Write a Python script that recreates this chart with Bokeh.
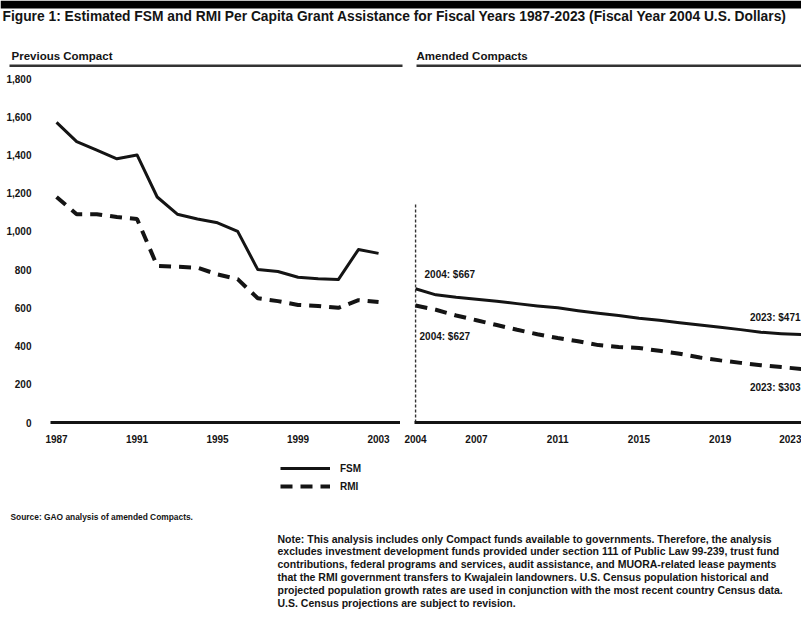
from bokeh.plotting import figure
from bokeh.models import (Range1d, FixedTicker, NumeralTickFormatter, Label,
                          Legend, LegendItem, BoxAnnotation)
from bokeh.layouts import column, row
from bokeh.embed import file_html
from bokeh.resources import INLINE

# ---------------- data ----------------
prev_years = list(range(1987, 2004))
prev_fsm = [1570, 1470, 1425, 1380, 1400, 1180, 1090, 1065, 1045, 1000,
            800, 790, 760, 752, 748, 905, 885]
prev_rmi = [1180, 1090, 1090, 1075, 1065, 820, 815, 810, 775, 750,
            650, 635, 615, 610, 600, 640, 630]

amend_years = list(range(2004, 2024))
amend_fsm = [700, 668, 655, 645, 635, 622, 610, 600, 585, 572,
             560, 545, 535, 522, 510, 498, 486, 472, 465, 460]
amend_rmi = [612, 590, 560, 535, 510, 485, 462, 442, 425, 405,
             395, 390, 375, 360, 340, 325, 312, 300, 290, 280]

y_ticks = [0, 200, 400, 600, 800, 1000, 1200, 1400, 1600, 1800]
prev_tick_years = [1987, 1991, 1995, 1999, 2003]
amend_tick_years = [2004, 2007, 2011, 2015, 2019, 2023]
divider_top = 1150

end_labels = {
    "fsm_start": "2004: $667",
    "rmi_start": "2004: $627",
    "fsm_end": "2023: $471",
    "rmi_end": "2023: $303",
}
series_names = ["FSM", "RMI"]

title_text = ("Figure 1: Estimated FSM and RMI Per Capita Grant Assistance for "
              "Fiscal Years 1987-2023 (Fiscal Year 2004 U.S. Dollars)")
panel_titles = ["Previous Compact", "Amended Compacts"]
source_text = "Source: GAO analysis of amended Compacts."
note_lines = [
    "Note: This analysis includes only Compact funds available to governments. Therefore, the analysis",
    "excludes investment development funds provided under section 111 of Public Law 99-239, trust fund",
    "contributions, federal programs and services, audit assistance, and MUORA-related lease payments",
    "that the RMI government transfers to Kwajalein landowners. U.S. Census population historical and",
    "projected population growth rates are used in conjunction with the most recent country Census data.",
    "U.S. Census projections are subject to revision.",
]

FONT = "Liberation Sans"
INK = "#141414"
W_TOTAL = 801

# ---------------- header ----------------
HEAD_H = 72
head = figure(width=W_TOTAL, height=HEAD_H, x_range=Range1d(0, W_TOTAL),
              y_range=Range1d(HEAD_H, 0), output_backend="svg",
              toolbar_location=None, x_axis_type=None, y_axis_type=None,
              min_border=0, outline_line_color=None)
head.grid.visible = False
head.add_layout(BoxAnnotation(left=0, right=W_TOTAL, top=0, bottom=8,
                              fill_color="black", fill_alpha=1, line_color=None))
head.add_layout(Label(x=2, y=16, text=title_text, text_font=FONT,
                      text_font_size="13.8px", text_font_style="bold",
                      text_color=INK, text_baseline="middle"))
head.add_layout(Label(x=11, y=55, text=panel_titles[0], text_font=FONT,
                      text_font_size="11.5px", text_font_style="bold",
                      text_color=INK, text_baseline="middle"))
head.add_layout(Label(x=416, y=55, text=panel_titles[1], text_font=FONT,
                      text_font_size="11.5px", text_font_style="bold",
                      text_color=INK, text_baseline="middle"))
head.add_layout(BoxAnnotation(left=9, right=402, top=64, bottom=66.5,
                              fill_color="#333333", fill_alpha=1, line_color=None))
head.add_layout(BoxAnnotation(left=416, right=W_TOTAL, top=64, bottom=66.5,
                              fill_color="#333333", fill_alpha=1, line_color=None))

# ---------------- plots ----------------
PLOT_H = 383


def style_axes(p):
    p.xaxis.axis_line_width = 3
    p.xaxis.axis_line_color = INK
    p.xaxis.major_tick_line_color = None
    p.xaxis.minor_tick_line_color = None
    p.xaxis.major_label_standoff = 6
    p.xaxis.major_label_text_font = FONT
    p.xaxis.major_label_text_font_size = "10px"
    p.xaxis.major_label_text_font_style = "bold"
    p.xaxis.major_label_text_color = INK
    p.grid.visible = False
    p.outline_line_color = None


left = figure(width=400, height=PLOT_H, x_range=Range1d(1986.7, 2004.09),
              y_range=Range1d(0, 1800), output_backend="svg",
              toolbar_location=None, min_border_left=50, min_border_right=0,
              min_border_top=6, min_border_bottom=33)
style_axes(left)
left.xaxis.ticker = FixedTicker(ticks=prev_tick_years)
left.yaxis.ticker = FixedTicker(ticks=y_ticks)
left.yaxis.formatter = NumeralTickFormatter(format="0,0")
left.yaxis.axis_line_color = None
left.yaxis.major_tick_line_color = None
left.yaxis.minor_tick_line_color = None
left.yaxis.major_label_standoff = 13
left.yaxis.major_label_text_font = FONT
left.yaxis.major_label_text_font_size = "10px"
left.yaxis.major_label_text_font_style = "bold"
left.yaxis.major_label_text_color = INK

left.line(prev_years, prev_fsm, line_color=INK, line_width=3, line_join="round")
left.line(prev_years, prev_rmi, line_color=INK, line_width=4, line_dash="12 8")

right = figure(width=W_TOTAL - 400, height=PLOT_H,
               x_range=Range1d(2003.95, 2023.0), y_range=Range1d(0, 1800),
               output_backend="svg", toolbar_location=None, y_axis_type=None,
               min_border_left=14, min_border_right=0, min_border_top=6,
               min_border_bottom=33)
style_axes(right)
right.xaxis.ticker = FixedTicker(ticks=amend_tick_years)

right.segment(x0=[amend_years[0]], y0=[0], x1=[amend_years[0]], y1=[divider_top],
              line_color="#333333", line_width=1.5, line_dash="3 2")
right.line(amend_years, amend_fsm, line_color=INK, line_width=3, line_join="round")
right.line(amend_years, amend_rmi, line_color=INK, line_width=4, line_dash="12 8")

lab_kw = dict(text_font=FONT, text_font_size="10px", text_font_style="bold",
              text_color=INK, text_baseline="middle")
right.add_layout(Label(x=amend_years[0], y=amend_fsm[0], x_offset=9, y_offset=14,
                       text=end_labels["fsm_start"], **lab_kw))
right.add_layout(Label(x=amend_years[0], y=amend_rmi[0], x_offset=4, y_offset=-31,
                       text=end_labels["rmi_start"], **lab_kw))
right.add_layout(Label(x=amend_years[-1], y=amend_fsm[-1], x_offset=-1, y_offset=17,
                       text=end_labels["fsm_end"], text_align="right", **lab_kw))
right.add_layout(Label(x=amend_years[-1], y=amend_rmi[-1], x_offset=-1, y_offset=-19,
                       text=end_labels["rmi_end"], text_align="right", **lab_kw))

# ---------------- footer (legend, source, note) ----------------
FOOT_H = 154
foot = figure(width=W_TOTAL, height=FOOT_H, x_range=Range1d(0, W_TOTAL),
              y_range=Range1d(FOOT_H, 0), output_backend="svg",
              toolbar_location=None, x_axis_type=None, y_axis_type=None,
              min_border=0, outline_line_color=None)
foot.grid.visible = False
# legend keys: the series themselves, which fall outside this panel's ranges
key_fsm = foot.line(prev_years, prev_fsm, line_color=INK, line_width=3)
key_rmi = foot.line(prev_years, prev_rmi, line_color=INK, line_width=4,
                    line_dash="12 8")
legend = Legend(items=[LegendItem(label=series_names[0], renderers=[key_fsm]),
                       LegendItem(label=series_names[1], renderers=[key_rmi])],
                location=(280, 116), orientation="vertical",
                glyph_width=50, glyph_height=14, label_height=14,
                label_standoff=10, spacing=4, padding=0, margin=0,
                border_line_color=None, background_fill_alpha=0,
                label_text_font=FONT, label_text_font_size="10px",
                label_text_font_style="bold", label_text_color=INK)
foot.add_layout(legend)

foot.add_layout(Label(x=10, y=61, text=source_text, text_font=FONT,
                      text_font_size="8.4px", text_font_style="bold",
                      text_color=INK, text_baseline="middle"))
for i, line in enumerate(note_lines):
    foot.add_layout(Label(x=277, y=83 + 12.8 * i, text=line, text_font=FONT,
                          text_font_size="10.5px", text_font_style="bold",
                          text_color=INK, text_baseline="middle"))

layout = column(head, row(left, right), foot)
open("out.html", "w").write(file_html(layout, INLINE))
